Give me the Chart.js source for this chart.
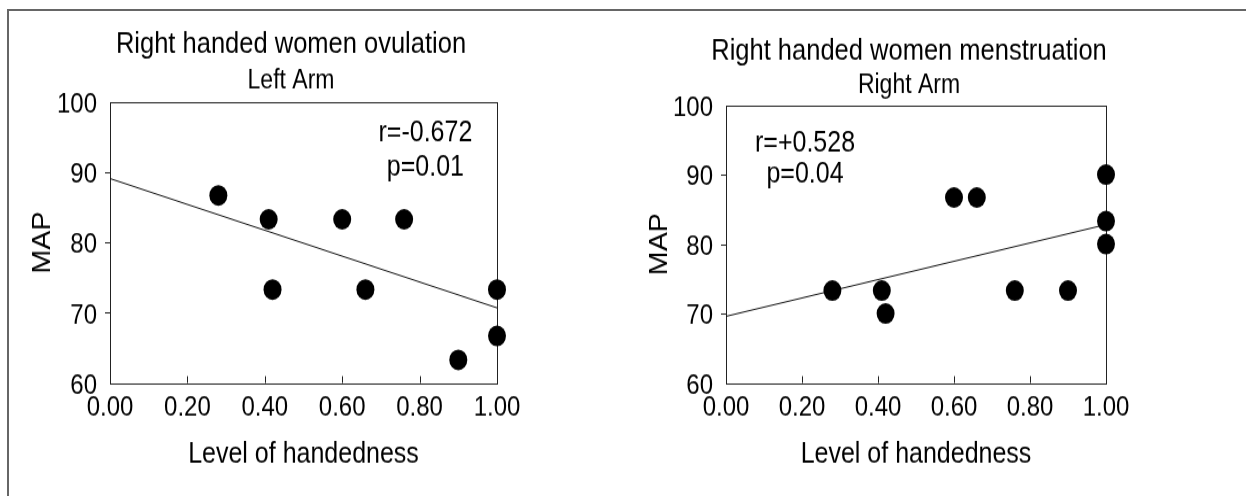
<!DOCTYPE html>
<html>
<head>
<meta charset="utf-8">
<title>Level of handedness vs MAP</title>
<script src="https://cdn.jsdelivr.net/npm/chart.js@4.4.1/dist/chart.umd.min.js"></script>
<style>
  html, body { margin: 0; padding: 0; background: #fff; overflow: hidden; }
  body { width: 1246px; height: 496px; position: relative; }
  .frame { position: absolute; left: 7px; top: 9px; width: 1300px; height: 600px;
           border-left: 2px solid #666; border-top: 2px solid #666; }
  /* the original figure is drawn a bit taller than wide, so stretch vertically */
  .panel { position: absolute; top: 0; height: 432px; transform: scaleY(1.1481); transform-origin: 0 0; }
  #leftPanel { left: 0; width: 582px; }
  #rightPanel { left: 620px; width: 578px; }
</style>
</head>
<body>
<div class="frame"></div>
<div class="panel" id="leftPanel"><canvas id="leftChart"></canvas></div>
<div class="panel" id="rightPanel"><canvas id="rightChart"></canvas></div>
<script>
// Axis ticks
const xTicks = [0, 0.2, 0.4, 0.6, 0.8, 1.0];
const yTicks = [60, 70, 80, 90, 100];

// Left panel: ovulation, left arm
const ovulationHand = [0.28, 0.41, 0.42, 0.60, 0.66, 0.76, 0.90, 1.00, 1.00];
const ovulationMap  = [86.7, 83.3, 73.3, 83.3, 73.3, 83.3, 63.3, 73.3, 66.7];
const ovulationFit  = [89.1, 70.7];   // regression line at x = 0 and x = 1
const ovulationStats = ['r=-0.672', 'p=0.01'];

// Right panel: menstruation, right arm
const menstruationHand = [0.28, 0.41, 0.42, 0.60, 0.66, 0.76, 0.90, 1.00, 1.00, 1.00];
const menstruationMap  = [73.3, 73.3, 70.0, 86.7, 86.7, 73.3, 73.3, 90.0, 83.3, 80.0];
const menstruationFit  = [69.6, 82.8];
const menstruationStats = ['r=+0.528', 'p=0.04'];

const fitX = [0, 1];

const fontStack = "'Liberation Sans', Arial, sans-serif";
Chart.defaults.font.family = fontStack;
Chart.defaults.color = '#000';

// Draws the plot box, the short tick marks and the r / p notes
const framePlugin = {
    id: 'handFrame',
    beforeDatasetsDraw(chart) {
        const { ctx, chartArea: a, scales: { x, y } } = chart;
        ctx.save();
        ctx.strokeStyle = '#222';
        ctx.lineWidth = 1;
        ctx.strokeRect(Math.round(a.left) + 0.5, Math.round(a.top) + 0.5,
                       Math.round(a.right - a.left), Math.round(a.bottom - a.top));
        ctx.beginPath();
        xTicks.slice(1, -1).forEach(v => {
            const px = Math.round(x.getPixelForValue(v)) + 0.5;
            ctx.moveTo(px, a.bottom);
            ctx.lineTo(px, a.bottom - 6);
        });
        yTicks.slice(1, -1).forEach(v => {
            const py = Math.round(y.getPixelForValue(v)) + 0.5;
            ctx.moveTo(a.left - 5, py);
            ctx.lineTo(a.left, py);
        });
        ctx.stroke();
        ctx.restore();
    },
    afterDraw(chart, args, opts) {
        const { ctx, scales: { x, y } } = chart;
        ctx.save();
        ctx.font = '25px ' + fontStack;
        ctx.fillStyle = '#000';
        ctx.textAlign = 'center';
        ctx.textBaseline = 'middle';
        opts.notes.forEach((t, i) => {
            ctx.fillText(t, x.getPixelForValue(opts.noteX), y.getPixelForValue(opts.noteY[i]));
        });
        ctx.restore();
    }
};

function buildChart(canvasId, cfg) {
    const points = cfg.hand.map((h, i) => ({ x: h, y: cfg.map[i] }));
    const fit = fitX.map((h, i) => ({ x: h, y: cfg.fit[i] }));

    return new Chart(document.getElementById(canvasId), {
        type: 'scatter',
        data: {
            datasets: [{
                label: 'MAP',
                data: points,
                pointRadius: 9,
                pointHoverRadius: 9,
                backgroundColor: '#000',
                borderColor: '#000',
                borderWidth: 0,
                clip: false
            }, {
                label: 'Fit',
                data: fit,
                showLine: true,
                borderColor: '#111',
                borderWidth: 1,
                pointRadius: 0,
                clip: false
            }]
        },
        options: {
            responsive: true,
            maintainAspectRatio: false,
            animation: false,
            events: [],
            layout: { padding: { left: 0, right: 0, top: 8, bottom: 0 } },
            plugins: {
                legend: { display: false },
                tooltip: { enabled: false },
                title: {
                    display: true,
                    text: cfg.title,
                    color: '#000',
                    font: { size: 25.5, weight: 'normal' },
                    padding: { top: cfg.titleTop, bottom: 0 }
                },
                subtitle: {
                    display: true,
                    text: cfg.subtitle,
                    color: '#000',
                    font: { size: 23, weight: 'normal' },
                    padding: { top: cfg.subTop, bottom: cfg.subBottom }
                },
                handFrame: { notes: cfg.notes, noteX: cfg.noteX, noteY: cfg.noteY }
            },
            scales: {
                x: {
                    type: 'linear',
                    min: 0,
                    max: 1,
                    grid: { display: false, drawTicks: false },
                    border: { display: false },
                    ticks: {
                        padding: 7.8,
                        font: { size: 24 },
                        maxRotation: 0,
                        callback: v => v.toFixed(2)
                    },
                    title: {
                        display: true,
                        text: 'Level of handedness',
                        font: { size: 25 },
                        padding: { top: 0, bottom: 20.7 }
                    },
                    afterBuildTicks: s => { s.ticks = xTicks.map(v => ({ value: v })); },
                    afterFit: s => { s.height = 98.4; }
                },
                y: {
                    type: 'linear',
                    min: 60,
                    max: 100,
                    grid: { display: false, drawTicks: false },
                    border: { display: false },
                    ticks: {
                        padding: 13,
                        labelOffset: 2.6,
                        font: { size: 24 }
                    },
                    title: {
                        display: true,
                        text: 'MAP',
                        font: { size: 25 },
                        padding: { top: cfg.mapPad, bottom: 0 }
                    },
                    afterBuildTicks: s => { s.ticks = yTicks.map(v => ({ value: v })); },
                    afterFit: s => { s.width = cfg.yWidth; }
                },
                // empty right-hand axis: keeps the plot narrower than the centred titles
                spacer: {
                    type: 'linear',
                    position: 'right',
                    min: 0,
                    max: 1,
                    grid: { display: false, drawTicks: false },
                    border: { display: false },
                    ticks: { display: false },
                    afterFit: s => { s.width = cfg.padRight; }
                }
            }
        },
        plugins: [framePlugin]
    });
}

buildChart('leftChart', {
    hand: ovulationHand, map: ovulationMap, fit: ovulationFit,
    title: 'Right handed women ovulation', subtitle: 'Left Arm',
    titleTop: 15.9, subTop: 2.3, subBottom: 4.4,
    padRight: 85, yWidth: 110, mapPad: 28,
    notes: ovulationStats, noteX: 0.815, noteY: [95.6, 90.6]
});

buildChart('rightChart', {
    hand: menstruationHand, map: menstruationMap, fit: menstruationFit,
    title: 'Right handed women menstruation', subtitle: 'Right Arm',
    titleTop: 22, subTop: 0, subBottom: 3.3,
    padRight: 92, yWidth: 106, mapPad: 25,
    notes: menstruationStats, noteX: 0.208, noteY: [94.5, 90.0]
});
</script>
</body>
</html>
